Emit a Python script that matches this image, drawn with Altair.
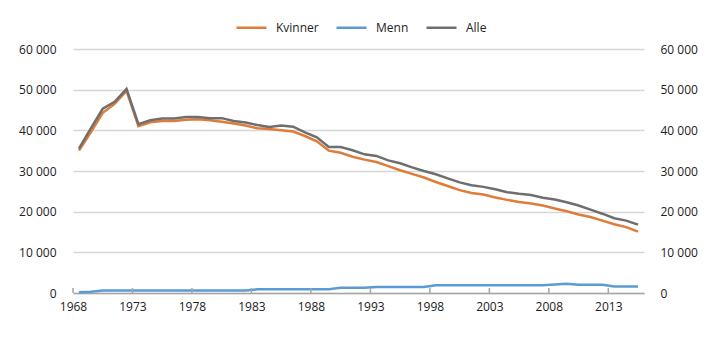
import altair as alt
import pandas as pd

years = list(range(1968, 2016))
kvinner = [35000, 39500, 44300, 46500, 49700, 41000, 42000, 42300, 42300, 42600,
           42700, 42500, 42100, 41700, 41200, 40500, 40300, 40000, 39700, 38600,
           37300, 35000, 34500, 33500, 32800, 32200, 31200, 30200, 29300, 28400,
           27300, 26300, 25300, 24600, 24200, 23500, 22900, 22400, 22000, 21500,
           20800, 20100, 19300, 18700, 17800, 16900, 16200, 15100]
menn = [200, 300, 600, 600, 600, 600, 600, 600, 600, 600,
        600, 600, 600, 600, 600, 900, 900, 900, 900, 900,
        900, 900, 1300, 1300, 1300, 1500, 1500, 1500, 1500, 1500,
        1900, 1900, 1900, 1900, 1900, 1900, 1900, 1900, 1900, 1900,
        2100, 2300, 2000, 2000, 2000, 1600, 1600, 1600]
alle = [35500, 40500, 45300, 47000, 50200, 41500, 42500, 42900, 42900, 43300,
        43300, 43000, 43000, 42300, 41900, 41300, 40800, 41200, 40900, 39500,
        38300, 35900, 35900, 35100, 34100, 33700, 32600, 31900, 30900, 30000,
        29200, 28200, 27200, 26500, 26100, 25500, 24800, 24400, 24100, 23400,
        23000, 22300, 21500, 20500, 19500, 18400, 17800, 16800]
series = ["Kvinner", "Menn", "Alle"]
colors = ["#E07B39", "#5B9BD5", "#6E6E6E"]
tick_years = [1968, 1973, 1978, 1983, 1988, 1993, 1998, 2003, 2008, 2013]

rows = []
for name, vals in zip(series, [kvinner, menn, alle]):
    for y, v in zip(years, vals):
        rows.append({"year": y, "value": v, "serie": name})
df = pd.DataFrame(rows)
ticks_df = pd.DataFrame({"t": [t - 0.5 for t in tick_years]})

FONT = "Open Sans"
W, H = 571, 244
xscale = alt.Scale(domain=[1967.5, 2015.5], nice=False, zero=False)
yscale = alt.Scale(domain=[0, 60000], nice=False)
label_expr_y = "replace(format(datum.value, ','), ',', ' ')"

xaxis = alt.Axis(values=[t - 0.5 for t in tick_years],
                 labelExpr="toString(datum.value + 0.5)",
                 ticks=False, grid=False, domain=True,
                 domainColor="#a6a6a6", domainWidth=1.5,
                 labelPadding=8, labelFontSize=12, labelFont=FONT,
                 labelColor="#222222", title=None, labelFlush=False)

lines = alt.Chart(df).mark_line(strokeWidth=2.5).encode(
    x=alt.X("year:Q", scale=xscale, axis=xaxis),
    y=alt.Y("value:Q", scale=yscale,
            axis=alt.Axis(orient="left", values=[0, 10000, 20000, 30000, 40000, 50000, 60000],
                          labelExpr=label_expr_y, ticks=False, domain=False,
                          grid=True, gridColor="#d6d6d6", gridWidth=1.5,
                          labelPadding=17, labelFontSize=12, labelFont=FONT,
                          labelColor="#222222", title=None)),
    color=alt.Color("serie:N", sort=series,
                    scale=alt.Scale(domain=series, range=colors),
                    legend=alt.Legend(orient="none", legendX=162, legendY=-38,
                                      direction="horizontal", title=None,
                                      symbolType="stroke", symbolSize=900,
                                      symbolStrokeWidth=2.5, labelFontSize=12,
                                      labelFont=FONT, labelColor="#222222",
                                      labelOffset=8, columnPadding=12, padding=0)),
    order=alt.Order("serie:N"),
)

right = alt.Chart(df).mark_line(opacity=0).encode(
    x=alt.X("year:Q", scale=xscale),
    y=alt.Y("value:Q", scale=yscale,
            axis=alt.Axis(orient="right", values=[0, 10000, 20000, 30000, 40000, 50000, 60000],
                          labelExpr=label_expr_y, ticks=False, domain=False,
                          grid=False, labelPadding=16, labelFontSize=12,
                          labelFont=FONT, labelColor="#222222", title=None)),
    detail="serie:N",
)

tickmarks = alt.Chart(ticks_df).mark_rule(color="#a6a6a6", strokeWidth=1.5).encode(
    x=alt.X("t:Q", scale=xscale),
    y=alt.value(H - 5),
    y2=alt.value(H),
)

chart = alt.layer(lines, right, tickmarks).resolve_scale(y="independent").properties(
    width=W, height=H,
    autosize=alt.AutoSizeParams(type="none"),
    padding={"left": 73, "top": 49, "right": 76, "bottom": 48},
).configure_view(stroke=None)

chart.save("out.html", embed_options={"renderer": "svg", "actions": False})
